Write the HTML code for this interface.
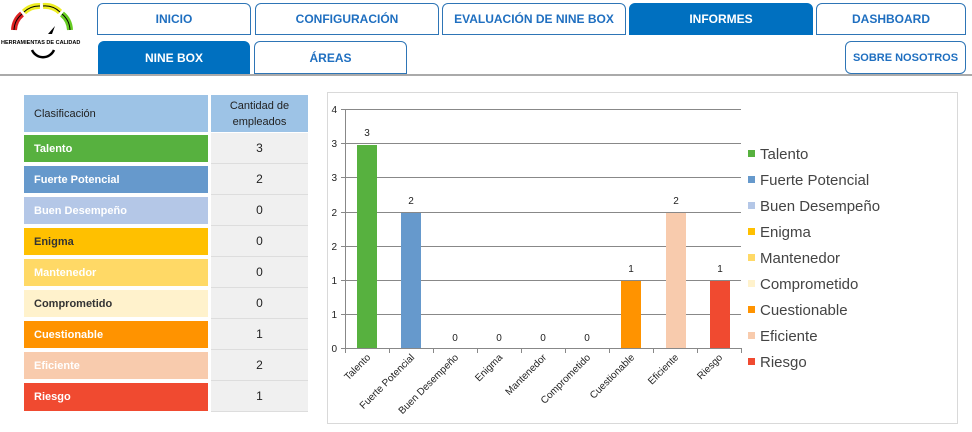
<!DOCTYPE html>
<html><head><meta charset="utf-8"><style>
body{margin:0;width:972px;height:432px;background:#fff;font-family:"Liberation Sans",sans-serif;position:relative;overflow:hidden}
.b{position:absolute;box-sizing:border-box;border:1.5px solid #2e75b6;border-radius:6px 6px 0 0;color:#1f6fc0;font-weight:bold;font-size:12px;display:flex;align-items:center;justify-content:center;background:#fff}
.f{background:#0070c0;color:#fff;border-color:#0070c0}
.c{position:absolute;box-sizing:border-box;font-size:11px;font-weight:bold;color:#222;display:flex;align-items:center;padding-left:10px}
.n{position:absolute;box-sizing:border-box;font-size:12px;color:#222;background:#f0f0f0;display:flex;align-items:center;justify-content:center;border-bottom:1px solid #ddd}
</style></head><body>
<svg style="position:absolute;left:0;top:0" width="95" height="70">
<path d="M14 30 A22 22 0 0 1 22 14" stroke="#d22" stroke-width="6" fill="none"/>
<path d="M24 12 A22 22 0 0 1 40 6" stroke="#ee2" stroke-width="6" fill="none" />
<path d="M43 6 A22 22 0 0 1 60 12" stroke="#ee2" stroke-width="6" fill="none"/>
<path d="M62 14 A22 22 0 0 1 70 30" stroke="#6c2" stroke-width="6" fill="none"/>
<path d="M14 30 A22 22 0 0 1 22 14 M24 12 A22 22 0 0 1 40 6 M43 6 A22 22 0 0 1 60 12 M62 14 A22 22 0 0 1 70 30" stroke="#000" stroke-width="1" fill="none"/>
<polygon points="48,34 55,26 52,34" fill="#000"/>
<text x="1" y="44" font-size="5.5" font-weight="bold" font-family="Liberation Sans">HERRAMIENTAS DE CALIDAD</text>
<path d="M32 50 A12 12 0 0 0 54 50" stroke="#000" stroke-width="2.5" fill="none"/>
</svg>
<div class="b" style="left:97px;top:3px;width:154px;height:32px">INICIO</div>
<div class="b" style="left:255px;top:3px;width:184px;height:32px">CONFIGURACIÓN</div>
<div class="b" style="left:442px;top:3px;width:184px;height:32px">EVALUACIÓN DE NINE BOX</div>
<div class="b f" style="left:629px;top:3px;width:184px;height:32px">INFORMES</div>
<div class="b" style="left:816px;top:3px;width:150px;height:32px">DASHBOARD</div>
<div class="b f" style="left:98px;top:41px;width:152px;height:33px">NINE BOX</div>
<div class="b" style="left:254px;top:41px;width:153px;height:33px">ÁREAS</div>
<div class="b" style="left:845px;top:41px;width:121px;height:33px;border-radius:6px;font-size:11px">SOBRE NOSOTROS</div>
<div style="position:absolute;left:0;top:74px;width:972px;height:2px;background:#aaa"></div>

<div class="c" style="left:24px;top:95px;width:184px;height:37px;background:#9dc3e6;font-weight:normal">Clasificación</div>
<div class="n" style="left:211px;top:95px;width:97px;height:37px;background:#9dc3e6;font-size:11px;text-align:center;line-height:16px;border:none">Cantidad de<br>empleados</div>
<div class="c" style="left:24px;top:135px;width:184px;height:27px;background:#57b13f;color:#fff">Talento</div>
<div class="c" style="left:24px;top:166px;width:184px;height:27px;background:#6699cc;color:#fff">Fuerte Potencial</div>
<div class="c" style="left:24px;top:197px;width:184px;height:27px;background:#b4c7e7;color:#fff">Buen Desempeño</div>
<div class="c" style="left:24px;top:228px;width:184px;height:27px;background:#ffc000;color:#333">Enigma</div>
<div class="c" style="left:24px;top:259px;width:184px;height:27px;background:#ffd966;color:#fff">Mantenedor</div>
<div class="c" style="left:24px;top:290px;width:184px;height:27px;background:#fff2cc;color:#333">Comprometido</div>
<div class="c" style="left:24px;top:321px;width:184px;height:27px;background:#ff9300;color:#fff">Cuestionable</div>
<div class="c" style="left:24px;top:352px;width:184px;height:27px;background:#f8cbad;color:#fff">Eficiente</div>
<div class="c" style="left:24px;top:383px;width:184px;height:28px;background:#f04a30;color:#fff">Riesgo</div>
<div class="n" style="left:211px;top:133px;width:97px;height:31px">3</div>
<div class="n" style="left:211px;top:164px;width:97px;height:31px">2</div>
<div class="n" style="left:211px;top:195px;width:97px;height:31px">0</div>
<div class="n" style="left:211px;top:226px;width:97px;height:31px">0</div>
<div class="n" style="left:211px;top:257px;width:97px;height:31px">0</div>
<div class="n" style="left:211px;top:288px;width:97px;height:31px">0</div>
<div class="n" style="left:211px;top:319px;width:97px;height:31px">1</div>
<div class="n" style="left:211px;top:350px;width:97px;height:31px">2</div>
<div class="n" style="left:211px;top:381px;width:97px;height:31px">1</div>

<svg style="position:absolute;left:0;top:0" width="972" height="432" font-family="Liberation Sans" font-size="10" fill="#222">
<rect x="327.5" y="92.5" width="630" height="331" fill="none" stroke="#d9d9d9"/>
<g stroke="#888" stroke-width="1">
<line x1="341" y1="109.5" x2="741" y2="109.5"/><line x1="341" y1="143.5" x2="741" y2="143.5"/>
<line x1="341" y1="177.5" x2="741" y2="177.5"/><line x1="341" y1="212.5" x2="741" y2="212.5"/>
<line x1="341" y1="246.5" x2="741" y2="246.5"/><line x1="341" y1="280.5" x2="741" y2="280.5"/>
<line x1="341" y1="314.5" x2="741" y2="314.5"/><line x1="341" y1="348.5" x2="741" y2="348.5"/>
<line x1="345.5" y1="109" x2="345.5" y2="353"/>
<line x1="389.5" y1="348" x2="389.5" y2="353"/><line x1="433.5" y1="348" x2="433.5" y2="353"/><line x1="477.5" y1="348" x2="477.5" y2="353"/><line x1="521.5" y1="348" x2="521.5" y2="353"/><line x1="565.5" y1="348" x2="565.5" y2="353"/><line x1="609.5" y1="348" x2="609.5" y2="353"/><line x1="653.5" y1="348" x2="653.5" y2="353"/><line x1="697.5" y1="348" x2="697.5" y2="353"/><line x1="741.5" y1="348" x2="741.5" y2="353"/>
</g>
<g text-anchor="end"><text x="337" y="113">4</text><text x="337" y="147">3</text><text x="337" y="181">3</text><text x="337" y="216">2</text><text x="337" y="250">2</text><text x="337" y="284">1</text><text x="337" y="318">1</text><text x="337" y="352">0</text></g>
<rect x="357" y="145" width="20" height="203" fill="#57b13f"/>
<rect x="401" y="213" width="20" height="135" fill="#6699cc"/>
<rect x="621" y="281" width="20" height="67" fill="#ff9300"/>
<rect x="666" y="213" width="20" height="135" fill="#f8cbad"/>
<rect x="710" y="281" width="20" height="67" fill="#f04a30"/>
<g text-anchor="middle"><text x="367" y="136">3</text><text x="411" y="204">2</text><text x="455" y="341">0</text><text x="499" y="341">0</text><text x="543" y="341">0</text><text x="587" y="341">0</text><text x="631" y="272">1</text><text x="676" y="204">2</text><text x="720" y="272">1</text></g>
<g text-anchor="end">
<text transform="translate(371,358) rotate(-45)">Talento</text>
<text transform="translate(415,358) rotate(-45)">Fuerte Potencial</text>
<text transform="translate(459,358) rotate(-45)">Buen Desempeño</text>
<text transform="translate(503,358) rotate(-45)">Enigma</text>
<text transform="translate(547,358) rotate(-45)">Mantenedor</text>
<text transform="translate(591,358) rotate(-45)">Comprometido</text>
<text transform="translate(635,358) rotate(-45)">Cuestionable</text>
<text transform="translate(679,358) rotate(-45)">Eficiente</text>
<text transform="translate(723,358) rotate(-45)">Riesgo</text>
</g>
<g font-size="15" fill="#444">
<rect x="748" y="150" width="7" height="7" fill="#57b13f"/><text x="760" y="159">Talento</text>
<rect x="748" y="176" width="7" height="7" fill="#6699cc"/><text x="760" y="185">Fuerte Potencial</text>
<rect x="748" y="202" width="7" height="7" fill="#b4c7e7"/><text x="760" y="211">Buen Desempeño</text>
<rect x="748" y="228" width="7" height="7" fill="#ffc000"/><text x="760" y="237">Enigma</text>
<rect x="748" y="254" width="7" height="7" fill="#ffd966"/><text x="760" y="263">Mantenedor</text>
<rect x="748" y="280" width="7" height="7" fill="#fff2cc"/><text x="760" y="289">Comprometido</text>
<rect x="748" y="306" width="7" height="7" fill="#ff9300"/><text x="760" y="315">Cuestionable</text>
<rect x="748" y="332" width="7" height="7" fill="#f8cbad"/><text x="760" y="341">Eficiente</text>
<rect x="748" y="358" width="7" height="7" fill="#f04a30"/><text x="760" y="367">Riesgo</text>
</g>
</svg>
</body></html>
